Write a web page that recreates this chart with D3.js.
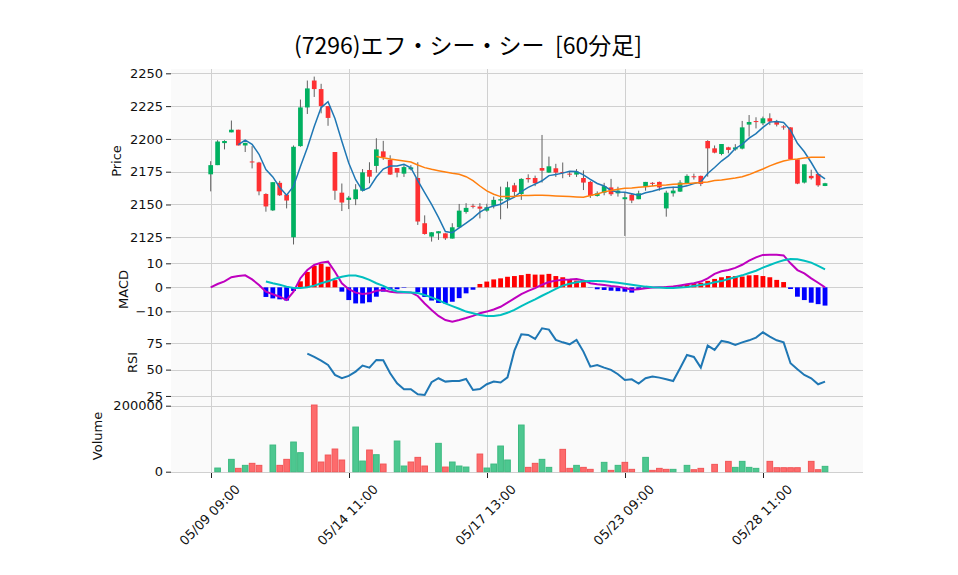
<!DOCTYPE html>
<html><head><meta charset="utf-8">
<script src="https://cdn.jsdelivr.net/npm/d3@7"></script>
<style>body{margin:0;background:#fff}svg{display:block}</style>
</head><body><svg id="c" width="958" height="575"></svg>
<script>
// ---------- data ----------
const titleText = "(7296)エフ・シー・シー  [60分足]";
const tickIdx = [0, 20, 40, 60, 80];
const tickLabels = ["05/09 09:00", "05/14 11:00", "05/17 13:00", "05/23 09:00", "05/28 11:00"];
const priceTicks = [2125, 2150, 2175, 2200, 2225, 2250];
const macdTicks = [-10, 0, 10];
const rsiTicks = [25, 50, 75];
const volTicks = [0, 200000];

const opens = [2173,2180,2196.8,2205,2207,2195,2182.8,2182,2158,2145.5,
 2166.5,2157.5,2125,2194.5,2224,2244.5,2238,2225,2190,2159,
 2153.5,2154,2160.5,2176.3,2179.4,2190.5,2184,2177.8,2173.5,2176.8,
 2170.2,2135.7,2125.5,2128,2128,2124,2132.6,2144.3,2149,2148.4,
 2145.3,2149,2153,2154,2164.6,2158,2170.2,2170.2,2177.8,2174.3,
 2177.6,2174.8,2173.5,2172.8,2170.2,2167.2,2156.5,2159,2163,2158.5,
 2154,2157.5,2154,2163.6,2166.5,2167.2,2147,2158.5,2159.8,2166,
 2171.5,2171.8,2198.4,2192.8,2188.5,2193.6,2192,2192.6,2210.9,2213.6,
 2211.9,2215.7,2212.9,2209.5,2208.8,2184.4,2166.7,2171.8,2173.3,2164.1];
const highs = [2183,2199,2199,2214,2207,2197,2194.5,2182.5,2158.5,2167,
 2168,2157.5,2195,2230,2244.5,2247.5,2242,2225,2190,2166,
 2156.5,2165.5,2177,2182.2,2200.5,2198.5,2187.5,2177.8,2180,2180,
 2182.2,2141.7,2129,2129.6,2128,2135.7,2150.4,2151,2150.5,2151,
 2150.5,2156,2163.6,2167.4,2166.5,2170,2173,2172,2203,2186.5,
 2181,2182,2175,2177,2176,2168,2160,2166.5,2169.5,2163.5,
 2159,2158.5,2160.5,2167.2,2167,2167.5,2160.5,2163.5,2168.5,2173,
 2173.5,2172,2199,2195,2196.1,2194,2196,2213.7,2218.2,2216.5,
 2217,2219.5,2214.5,2210.5,2208.8,2184.4,2180.6,2176.5,2173.5,2166.5];
const lows = [2160,2180,2192,2205,2195,2190,2177.5,2157,2144.5,2145,
 2156.5,2147,2119.5,2194,2219,2232,2219.5,2210,2153.5,2145,
 2146.5,2149.5,2160,2166.2,2174.3,2184,2172.5,2170.7,2171,2176,
 2134.4,2127,2121.7,2123,2123,2124,2132,2143,2147,2139.4,
 2144.5,2147,2138.7,2147,2156,2153.5,2166.7,2164,2166.7,2174,
 2171,2170,2171,2171,2161,2155,2156,2157,2156.5,2156,
 2126,2151,2154,2160.5,2164,2160.5,2140.7,2156,2159.5,2165.5,
 2169,2164,2171.2,2189,2187.5,2189,2191,2192,2201.7,2208,
 2210.5,2210.5,2209.5,2207,2184,2165.5,2166,2169,2163.5,2164];
const closes = [2180,2198,2198.4,2207,2195,2197,2182.3,2160,2148.5,2167,
 2157,2153,2194,2224,2238.5,2238,2225,2216,2160.5,2151.5,
 2155.2,2161.5,2174.5,2171.2,2192,2186,2172.8,2174.3,2178.5,2178.3,
 2137,2127.5,2128.8,2129.6,2124.2,2132.6,2145.3,2147.4,2148.7,2146.8,
 2147.9,2153.5,2154,2163.1,2159.6,2169.5,2169.2,2166.2,2175.8,2179.1,
 2174.3,2174,2173.2,2175,2166.7,2156.5,2158.5,2164,2157.8,2160.6,
 2155.5,2153,2158.5,2167.2,2166.2,2163,2159,2160.6,2166.7,2171.8,
 2171.2,2165.7,2192.8,2189.5,2196.1,2191.6,2193.5,2208.8,2212.9,2213.2,
 2215.7,2213.2,2210.9,2209.3,2184.4,2165.9,2180.6,2170,2164.6,2166.2];
const volumes = [0,11100,0,37400,10100,19200,25300,19200,0,80800,
 19200,37400,89900,57600,0,202000,29300,50500,68700,35400,
 0,135300,32300,65700,51500,23200,0,92900,17200,29300,
 43400,17200,0,85900,14100,29300,17200,14100,0,53500,
 11100,23200,77800,35400,0,141400,13100,25300,37400,13100,
 0,67700,10100,19200,13100,7100,0,28300,4000,19200,
 28300,7100,0,43400,4000,10100,7100,7100,0,19200,
 6000,10100,0,22200,0,31300,13100,31300,13100,10100,
 0,31300,12100,12100,12100,12100,0,31300,6000,16200];

const ma5Start = 4;
const ma5 = [2195.6,2199,2195.9,2188.3,2176.6,2171,2163,2157.1,2163.9,2179,
 2193.3,2209.5,2223.9,2228.3,2215.6,2198.2,2181.6,2168.9,2160.6,2162.8,
 2170.9,2177,2179.3,2179.3,2180.7,2178,2168.2,2159.1,2150,2140.2,
 2129.4,2128.5,2132.1,2135.8,2139.6,2144.2,2147.2,2148.9,2150.2,2153.1,
 2155.6,2159.9,2163.1,2165.5,2168.1,2172,2172.9,2173.9,2175.3,2175.1,
 2172.6,2169.1,2166,2164.1,2160.7,2159.5,2159.3,2158.2,2157.1,2159,
 2160.1,2161.6,2162.8,2163.2,2163.1,2164.2,2165.9,2167.2,2173.6,2178.2,
 2183.1,2187.1,2192.7,2195.9,2200.6,2204,2208.8,2212.8,2213.2,2212.5,
 2206.7,2196.7,2190.2,2182,2173.1,2169.5];
const ma25Start = 24;
const ma25 = [2186.5,2185.7,2184.7,2183.9,2183.2,2182.4,2180.1,2178.1,2176.8,2175.8,
 2174.8,2173.8,2173,2171.2,2168.2,2164.1,2160.3,2157.8,2156,2156,
 2156,2156.8,2156.8,2157,2157,2156.8,2156.5,2156.3,2156,2155.7,
 2155.5,2156.8,2158,2159.6,2160.6,2161.6,2162.3,2162.6,2163.1,2163.6,
 2164.1,2164.6,2164.9,2165.4,2165.7,2165.9,2166.4,2166.7,2167.2,2168.2,
 2168.7,2169.5,2170.2,2171.2,2172.8,2175,2177.1,2179.4,2181.4,2183.2,
 2184.2,2184.7,2185.5,2186,2186,2186];

const macdLine = [0,1.4,2.5,4.2,4.7,5,3.3,1,-1.8,-2.9,
 -3.9,-5.3,-1.8,3.8,7.2,9.3,10.3,10.7,6.5,1.7,
 -0.8,-2.2,-2.8,-2.5,-1.4,-1.1,-1.8,-2.2,-2.1,-2.1,
 -3.6,-6.7,-9.4,-11.9,-13.6,-14.3,-13.6,-12.8,-11.9,-10.8,
 -10.1,-9.2,-8.1,-6.4,-4.6,-2.8,-1.5,-0.3,1.1,2.2,
 2.8,3.2,3.3,3.5,2.9,1.7,1.25,1,0.6,0.3,
 -0.3,-1,-0.8,-0.4,-0.1,0,0.1,0.4,0.8,1.25,
 1.7,2.4,3.75,5.6,6.7,7.2,8.1,9.4,11.1,12.5,
 13.5,13.6,13.6,13.3,10,7.2,5.8,3.75,1.9,0];
const sigStart = 8;
const signalLine = [2.4,1.7,1.1,0.3,-0.3,-0.3,0,0.7,1.7,2.5,
 3.6,4.4,4.9,4.9,4.2,3.1,1.7,0.6,-0.8,-1.7,
 -1.9,-2.1,-2.4,-3.2,-4.2,-5.3,-6.7,-7.8,-8.9,-10.1,
 -10.8,-11.5,-11.9,-11.9,-11.5,-10.6,-9.4,-7.8,-6.4,-5,
 -3.5,-2.1,-0.6,0.7,1.5,2.1,2.5,2.6,2.6,2.5,
 2.2,1.9,1.5,1.1,0.7,0.3,0,-0.1,-0.3,-0.3,
 -0.1,0.1,0.6,1,1.4,2.1,2.6,3.5,4.2,5,
 6,6.9,8.2,9.3,10.4,11.25,11.8,11.7,11.1,10.3,
 8.9,7.5];
const histStart = 8;
const macdHist = [-4.0,-4.6,-5.0,-5.5,-1.5,2.5,6.4,8.9,9.8,8.6,
 3.0,-1.8,-5.3,-6.7,-6.7,-6.2,-3.9,-1.8,-1.0,-0.8,
 -0.2,0.0,-2.0,-4.0,-5.5,-6.5,-6.7,-6.0,-4.5,-2.5,
 -1.0,1.4,2.4,3.3,3.75,4.4,4.7,5.1,5.6,5.3,
 5.3,5.6,4.7,4.2,3.3,2.8,2.4,-0.1,-0.8,-1.1,
 -1.4,-1.6,-1.8,-2.2,-0.8,-0.5,-0.1,0.1,0.3,0.6,
 0.9,1.3,1.6,1.9,2.7,3.5,4.2,4.7,4.7,4.5,
 5.0,5.1,4.7,4.2,3.1,2.2,-0.7,-3.9,-5.3,-6.4,
 -7.0,-7.6];
const rsiStart = 14;
const rsiLine = [65.2,62,58.5,54.4,45,41.8,44,48.1,53.8,51.9,
 59.2,58.9,46.5,37,31.3,31.3,26.6,25.9,38,41.8,
 38.6,39.2,39.2,41.1,30.7,31.6,36.1,38.6,37.7,42.7,
 68,83.5,82.9,79.1,89.2,88,78.2,75.9,74,78.2,
 67.1,52.8,54.4,51.9,49.7,45.6,40.2,40.8,36.7,41.8,
 43.4,42.4,40.8,39.2,51.3,63.9,62,51.9,72.8,68.7,
 77.2,75.9,73.4,75.9,77.8,80.4,85.4,81.3,77.8,75.9,
 56,50.3,44.9,41.8,36.1,38.6];

// ---------- layout ----------
const svg = d3.select("#c");
const L = 171, R = 863;
const x = d3.scaleLinear().domain([-5.75, 94.5]).range([L, R]);
const step = x(1) - x(0);
const FONT = "DejaVu Sans, sans-serif";

const panels = [
  {key:"price", top:69, bottom:253, domain:[2113, 2253.3], ticks:priceTicks, label:"Price", lx:116, fmt:d3.format("d")},
  {key:"macd", top:253, bottom:326, domain:[-16.1, 14.3], ticks:macdTicks, label:"MACD", lx:123, fmt:d3.format("d")},
  {key:"rsi", top:326, bottom:399, domain:[22.1, 91.4], ticks:rsiTicks, label:"RSI", lx:132, fmt:d3.format("d")},
  {key:"vol", top:399, bottom:473, domain:[-3940, 220300], ticks:volTicks, label:"Volume", lx:97, fmt:d3.format("d")}
];
panels.forEach(p => { p.y = d3.scaleLinear().domain(p.domain).range([p.bottom, p.top]); });
const P = Object.fromEntries(panels.map(p => [p.key, p]));

const defs = svg.append("defs");
panels.forEach(p => {
  defs.append("clipPath").attr("id", "clip-" + p.key)
    .append("rect").attr("x", L).attr("y", p.top).attr("width", R - L).attr("height", p.bottom - p.top);
});

// backgrounds + grids
panels.forEach(p => {
  svg.append("rect").attr("x", L).attr("y", p.top).attr("width", R - L).attr("height", p.bottom - p.top)
    .attr("fill", "#fafafa");
  const g = svg.append("g").attr("clip-path", "url(#clip-" + p.key + ")");
  g.selectAll("line.h").data(p.ticks).join("line")
    .attr("x1", L).attr("x2", R).attr("y1", d => Math.round(p.y(d)) + 0.5).attr("y2", d => Math.round(p.y(d)) + 0.5)
    .attr("stroke", "#d0d0d0").attr("stroke-width", 1);
  g.selectAll("line.v").data(tickIdx).join("line")
    .attr("y1", p.top).attr("y2", p.bottom).attr("x1", d => Math.round(x(d)) + 0.5).attr("x2", d => Math.round(x(d)) + 0.5)
    .attr("stroke", "#d0d0d0").attr("stroke-width", 1);
});

// ---------- price panel ----------
const UP = "#00b060", DN = "#fe3032";
const idx = d3.range(closes.length);
const pr = P.price;
const gp = svg.append("g").attr("clip-path", "url(#clip-price)");
gp.selectAll("line.wick").data(idx).join("line")
  .attr("x1", i => x(i)).attr("x2", i => x(i))
  .attr("y1", i => pr.y(highs[i])).attr("y2", i => pr.y(lows[i]))
  .attr("stroke", "#606060").attr("stroke-width", 1);
const bw = step * 0.68;
gp.selectAll("rect.body").data(idx).join("rect")
  .attr("x", i => x(i) - bw / 2).attr("width", bw)
  .attr("y", i => pr.y(Math.max(opens[i], closes[i])))
  .attr("height", i => Math.max(1, Math.abs(pr.y(opens[i]) - pr.y(closes[i]))))
  .attr("fill", i => closes[i] >= opens[i] ? UP : DN);

const line = (yS, start) => d3.line().x((d, k) => x(k + start)).y(d => yS(d));
gp.append("path").datum(ma5).attr("d", line(pr.y, ma5Start))
  .attr("fill", "none").attr("stroke", "#1f77b4").attr("stroke-width", 1.5);
gp.append("path").datum(ma25).attr("d", line(pr.y, ma25Start))
  .attr("fill", "none").attr("stroke", "#ff7f0e").attr("stroke-width", 1.5);

// ---------- MACD panel ----------
const mp = P.macd;
const gm = svg.append("g").attr("clip-path", "url(#clip-macd)");
const hw = step * 0.7;
gm.selectAll("rect.hist").data(macdHist).join("rect")
  .attr("x", (d, k) => x(k + histStart) - hw / 2).attr("width", hw)
  .attr("y", d => mp.y(Math.max(0, d))).attr("height", d => Math.abs(mp.y(d) - mp.y(0)))
  .attr("fill", d => d >= 0 ? "#ff0000" : "#0000ff");
gm.append("path").datum(macdLine).attr("d", line(mp.y, 0))
  .attr("fill", "none").attr("stroke", "#bf00bf").attr("stroke-width", 2);
gm.append("path").datum(signalLine).attr("d", line(mp.y, sigStart))
  .attr("fill", "none").attr("stroke", "#00bfbf").attr("stroke-width", 2);

// ---------- RSI panel ----------
const rp = P.rsi;
svg.append("g").attr("clip-path", "url(#clip-rsi)").append("path").datum(rsiLine)
  .attr("d", line(rp.y, rsiStart)).attr("fill", "none").attr("stroke", "#1f77b4").attr("stroke-width", 2);

// ---------- Volume panel ----------
const vp = P.vol;
const vw = step * 0.96;
svg.append("g").attr("clip-path", "url(#clip-vol)").selectAll("rect").data(idx.filter(i => volumes[i] > 0)).join("rect")
  .attr("x", i => x(i) - vw / 2 + 0.5).attr("width", vw - 1)
  .attr("y", i => vp.y(volumes[i])).attr("height", i => vp.y(0) - vp.y(volumes[i]))
  .attr("fill", i => (i > 0 ? closes[i] > closes[i - 1] : closes[i] > opens[i]) ? "#4dc790" : "#fd6b6c")
  .attr("stroke", i => (i > 0 ? closes[i] > closes[i - 1] : closes[i] > opens[i]) ? "#3dba80" : "#f25557")
  .attr("stroke-width", 1);

// ---------- axes ----------
panels.forEach(p => {
  const ax = svg.append("g").attr("transform", `translate(${L},0)`)
    .call(d3.axisLeft(p.y).tickValues(p.ticks).tickFormat(p.fmt).tickSize(5).tickPadding(3));
  ax.select(".domain").remove();
  ax.selectAll("line").attr("stroke", "#222");
  ax.selectAll("text").attr("font-family", FONT).attr("font-size", 13).attr("fill", "#111");
  svg.append("text").attr("transform", `translate(${p.lx},${(p.top + p.bottom) / 2}) rotate(-90)`)
    .attr("text-anchor", "middle").attr("dominant-baseline", "central")
    .attr("font-family", FONT).attr("font-size", 13).attr("fill", "#111").text(p.label);
});

const xa = svg.append("g");
xa.selectAll("line").data(tickIdx).join("line")
  .attr("x1", d => Math.round(x(d)) + 0.5).attr("x2", d => Math.round(x(d)) + 0.5)
  .attr("y1", 473).attr("y2", 478).attr("stroke", "#222");
xa.selectAll("text").data(tickIdx).join("text")
  .attr("transform", d => `translate(${x(d) - 1},${515}) rotate(-45)`)
  .attr("text-anchor", "middle").attr("dominant-baseline", "central")
  .attr("font-family", FONT).attr("font-size", 13).attr("fill", "#111")
  .text((d, k) => tickLabels[k]);

// title
svg.append("text").attr("x", 468).attr("y", 54).attr("text-anchor", "middle")
  .attr("font-family", "Noto Sans CJK JP, sans-serif").attr("font-size", 23).attr("fill", "#000")
  .style("white-space", "pre").text(titleText);
</script></body></html>
